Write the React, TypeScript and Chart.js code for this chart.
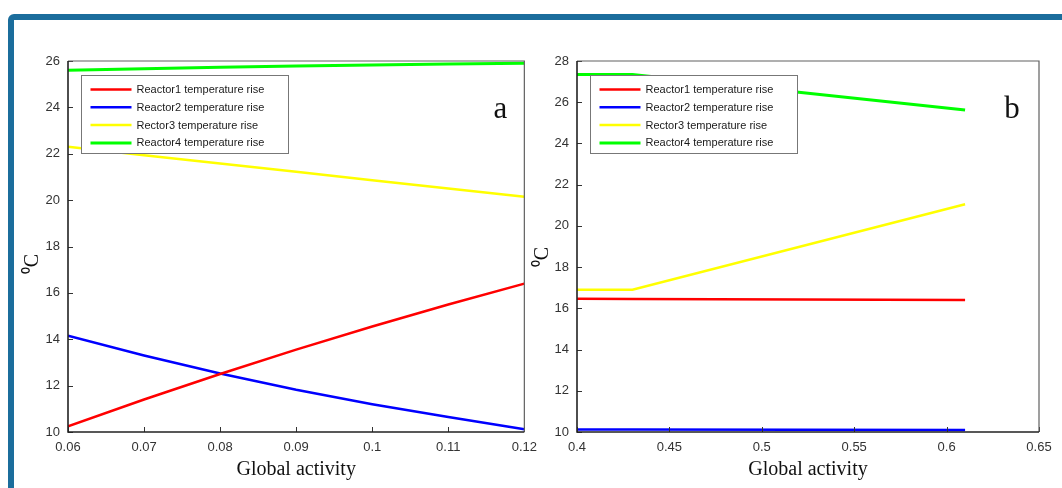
import React, { useEffect, useRef } from "react";
import { Chart, registerables } from "chart.js";

Chart.register(...registerables);

// ---- Data ----
const seriesLabels = [
  "Reactor1 temperature rise",
  "Reactor2 temperature rise",
  "Rector3 temperature rise",
  "Reactor4 temperature rise",
];

// Panel a
const activityA = [0.06, 0.07, 0.08, 0.09, 0.1, 0.11, 0.12];
const reactor1A = [10.25, 11.4, 12.5, 13.55, 14.55, 15.5, 16.4];
const reactor2A = [14.15, 13.3, 12.52, 11.82, 11.2, 10.65, 10.12];
const reactor3A = [22.3, 21.94, 21.58, 21.22, 20.86, 20.5, 20.15];
const reactor4A = [25.6, 25.67, 25.73, 25.78, 25.83, 25.87, 25.9];
const xTicksA = [0.06, 0.07, 0.08, 0.09, 0.1, 0.11, 0.12];
const yTicksA = [10, 12, 14, 16, 18, 20, 22, 24, 26];

// Panel b
const activityB = [0.4, 0.43, 0.61];
const reactor1B = [16.47, 16.45, 16.4];
const reactor2B = [10.12, 10.12, 10.1];
const reactor3B = [16.9, 16.9, 21.05];
const reactor4B = [27.35, 27.35, 25.62];
const xTicksB = [0.4, 0.45, 0.5, 0.55, 0.6, 0.65];
const yTicksB = [10, 12, 14, 16, 18, 20, 22, 24, 26, 28];

// ---- Styles ----
const lineColors = ["#ff0000", "#0000ff", "#ffff00", "#00ff00"];
const lineWidths = [2.5, 2.5, 2.5, 3];
const SANS = '"Liberation Sans", Arial, sans-serif';
const SERIF = '"Liberation Serif", "Times New Roman", serif';

const decorPlugin = {
  id: "decor",
  afterDraw(chart: any, _args: any, opts: any) {
    const { ctx, chartArea: ca, scales } = chart;
    const xs = scales.x;
    const ys = scales.y;
    ctx.save();
    // inward ticks
    ctx.strokeStyle = "#333";
    ctx.lineWidth = 1;
    xs.ticks.forEach((t: any) => {
      const px = Math.round(xs.getPixelForValue(t.value)) + 0.5;
      ctx.beginPath();
      ctx.moveTo(px, ca.bottom);
      ctx.lineTo(px, ca.bottom - 5);
      ctx.stroke();
    });
    ys.ticks.forEach((t: any) => {
      const py = Math.round(ys.getPixelForValue(t.value)) + 0.5;
      ctx.beginPath();
      ctx.moveTo(ca.left, py);
      ctx.lineTo(ca.left + 5, py);
      ctx.stroke();
    });
    // axes box
    ctx.strokeStyle = "#606060";
    ctx.lineWidth = 1.2;
    ctx.beginPath();
    ctx.moveTo(ca.left, ca.top);
    ctx.lineTo(ca.right, ca.top);
    ctx.lineTo(ca.right, ca.bottom);
    ctx.stroke();
    ctx.strokeStyle = "#222";
    ctx.lineWidth = 1.6;
    ctx.beginPath();
    ctx.moveTo(ca.left, ca.top);
    ctx.lineTo(ca.left, ca.bottom);
    ctx.lineTo(ca.right, ca.bottom);
    ctx.stroke();

    // legend box
    const bx = Math.round(ca.left + 13) + 0.5;
    const by = Math.round(ca.top + 14) + 0.5;
    const bw = 207;
    const bh = 78;
    ctx.fillStyle = "#fff";
    ctx.fillRect(bx, by, bw, bh);
    ctx.strokeStyle = "#777";
    ctx.lineWidth = 1;
    ctx.strokeRect(bx, by, bw, bh);
    chart.data.datasets.forEach((ds: any, i: number) => {
      const ry = by + 14 + i * 17.8;
      ctx.strokeStyle = ds.borderColor;
      ctx.lineWidth = ds.borderWidth;
      ctx.beginPath();
      ctx.moveTo(bx + 9, ry);
      ctx.lineTo(bx + 50, ry);
      ctx.stroke();
      ctx.fillStyle = "#1a1a1a";
      ctx.font = `11px ${SANS}`;
      ctx.textAlign = "left";
      ctx.textBaseline = "middle";
      ctx.fillText(ds.label, bx + 55, ry + 0.5);
    });

    // panel letter
    ctx.fillStyle = "#111";
    ctx.font = `31px ${SERIF}`;
    ctx.textAlign = "center";
    ctx.textBaseline = "alphabetic";
    ctx.fillText(opts.letter, ca.right - opts.letterDx, ca.top + 57);

    // y title
    ctx.translate(opts.yTitleX, opts.yTitleY);
    ctx.rotate(-Math.PI / 2);
    ctx.font = `20px ${SERIF}`;
    ctx.textAlign = "center";
    ctx.textBaseline = "middle";
    ctx.fillText("\u2070C", 0, 0);
    ctx.restore();
  },
};

type PanelProps = {
  left: number;
  width: number;
  xs: number[];
  series: number[][];
  xTicks: number[];
  yTicks: number[];
  axisWidth: number;
  padRight: number;
  letter: string;
  letterDx: number;
  yTitleX: number;
  yTitleY: number;
};

function Panel(p: PanelProps) {
  const ref = useRef<HTMLCanvasElement | null>(null);
  useEffect(() => {
    if (!ref.current) return;
    const fmt = (v: any) => String(+Number(v).toFixed(2));
    const chart = new Chart(ref.current, {
      type: "line",
      data: {
        datasets: p.series.map((vals, i) => ({
          label: seriesLabels[i],
          data: p.xs.map((x, j) => ({ x, y: vals[j] })),
          borderColor: lineColors[i],
          backgroundColor: lineColors[i],
          borderWidth: lineWidths[i],
          pointRadius: 0,
          tension: 0,
          fill: false,
        })),
      },
      options: {
        responsive: false,
        animation: false,
        devicePixelRatio: 1,
        layout: { padding: { top: 61, right: p.padRight, left: 0, bottom: 0 } },
        scales: {
          x: {
            type: "linear",
            min: p.xTicks[0],
            max: p.xTicks[p.xTicks.length - 1],
            afterBuildTicks: (s: any) => {
              s.ticks = p.xTicks.map((v) => ({ value: v }));
            },
            afterFit: (s: any) => {
              s.height = 56;
            },
            grid: { display: false, drawTicks: false },
            border: { display: false },
            ticks: {
              font: { family: SANS, size: 13 },
              color: "#333",
              padding: 8,
              maxRotation: 0,
              autoSkip: false,
              callback: fmt,
            },
            title: {
              display: true,
              text: "Global activity",
              font: { family: SERIF, size: 20 },
              color: "#111",
              padding: { top: 0, bottom: 6 },
            },
          },
          y: {
            type: "linear",
            min: p.yTicks[0],
            max: p.yTicks[p.yTicks.length - 1],
            afterBuildTicks: (s: any) => {
              s.ticks = p.yTicks.map((v) => ({ value: v }));
            },
            afterFit: (s: any) => {
              s.width = p.axisWidth;
            },
            grid: { display: false, drawTicks: false },
            border: { display: false },
            ticks: {
              font: { family: SANS, size: 13 },
              color: "#333",
              padding: 8,
              autoSkip: false,
              callback: fmt,
            },
          },
        },
        plugins: {
          legend: { display: false },
          tooltip: { enabled: false },
          decor: {
            letter: p.letter,
            letterDx: p.letterDx,
            yTitleX: p.yTitleX,
            yTitleY: p.yTitleY,
          },
        } as any,
      },
      plugins: [decorPlugin],
    } as any);
    return () => chart.destroy();
  }, []);
  return (
    <canvas
      ref={ref}
      width={p.width}
      height={488}
      style={{ position: "absolute", left: p.left, top: 0, width: p.width, height: 488 }}
    />
  );
}

export default function App() {
  return (
    <div
      style={{
        position: "fixed",
        left: 0,
        top: 0,
        width: 1062,
        height: 488,
        overflow: "hidden",
        background: "#fff",
      }}
    >
      <div
        style={{
          position: "absolute",
          left: 8,
          top: 14,
          width: 1300,
          height: 700,
          border: "6px solid #1b6d9c",
          borderRadius: 6,
          boxSizing: "border-box",
        }}
      />
      <Panel
        left={0}
        width={545}
        xs={activityA}
        series={[reactor1A, reactor2A, reactor3A, reactor4A]}
        xTicks={xTicksA}
        yTicks={yTicksA}
        axisWidth={68}
        padRight={19}
        letter="a"
        letterDx={24}
        yTitleX={33}
        yTitleY={264}
      />
      <Panel
        left={520}
        width={542}
        xs={activityB}
        series={[reactor1B, reactor2B, reactor3B, reactor4B]}
        xTicks={xTicksB}
        yTicks={yTicksB}
        axisWidth={57}
        padRight={23}
        letter="b"
        letterDx={27}
        yTitleX={23}
        yTitleY={257}
      />
    </div>
  );
}
